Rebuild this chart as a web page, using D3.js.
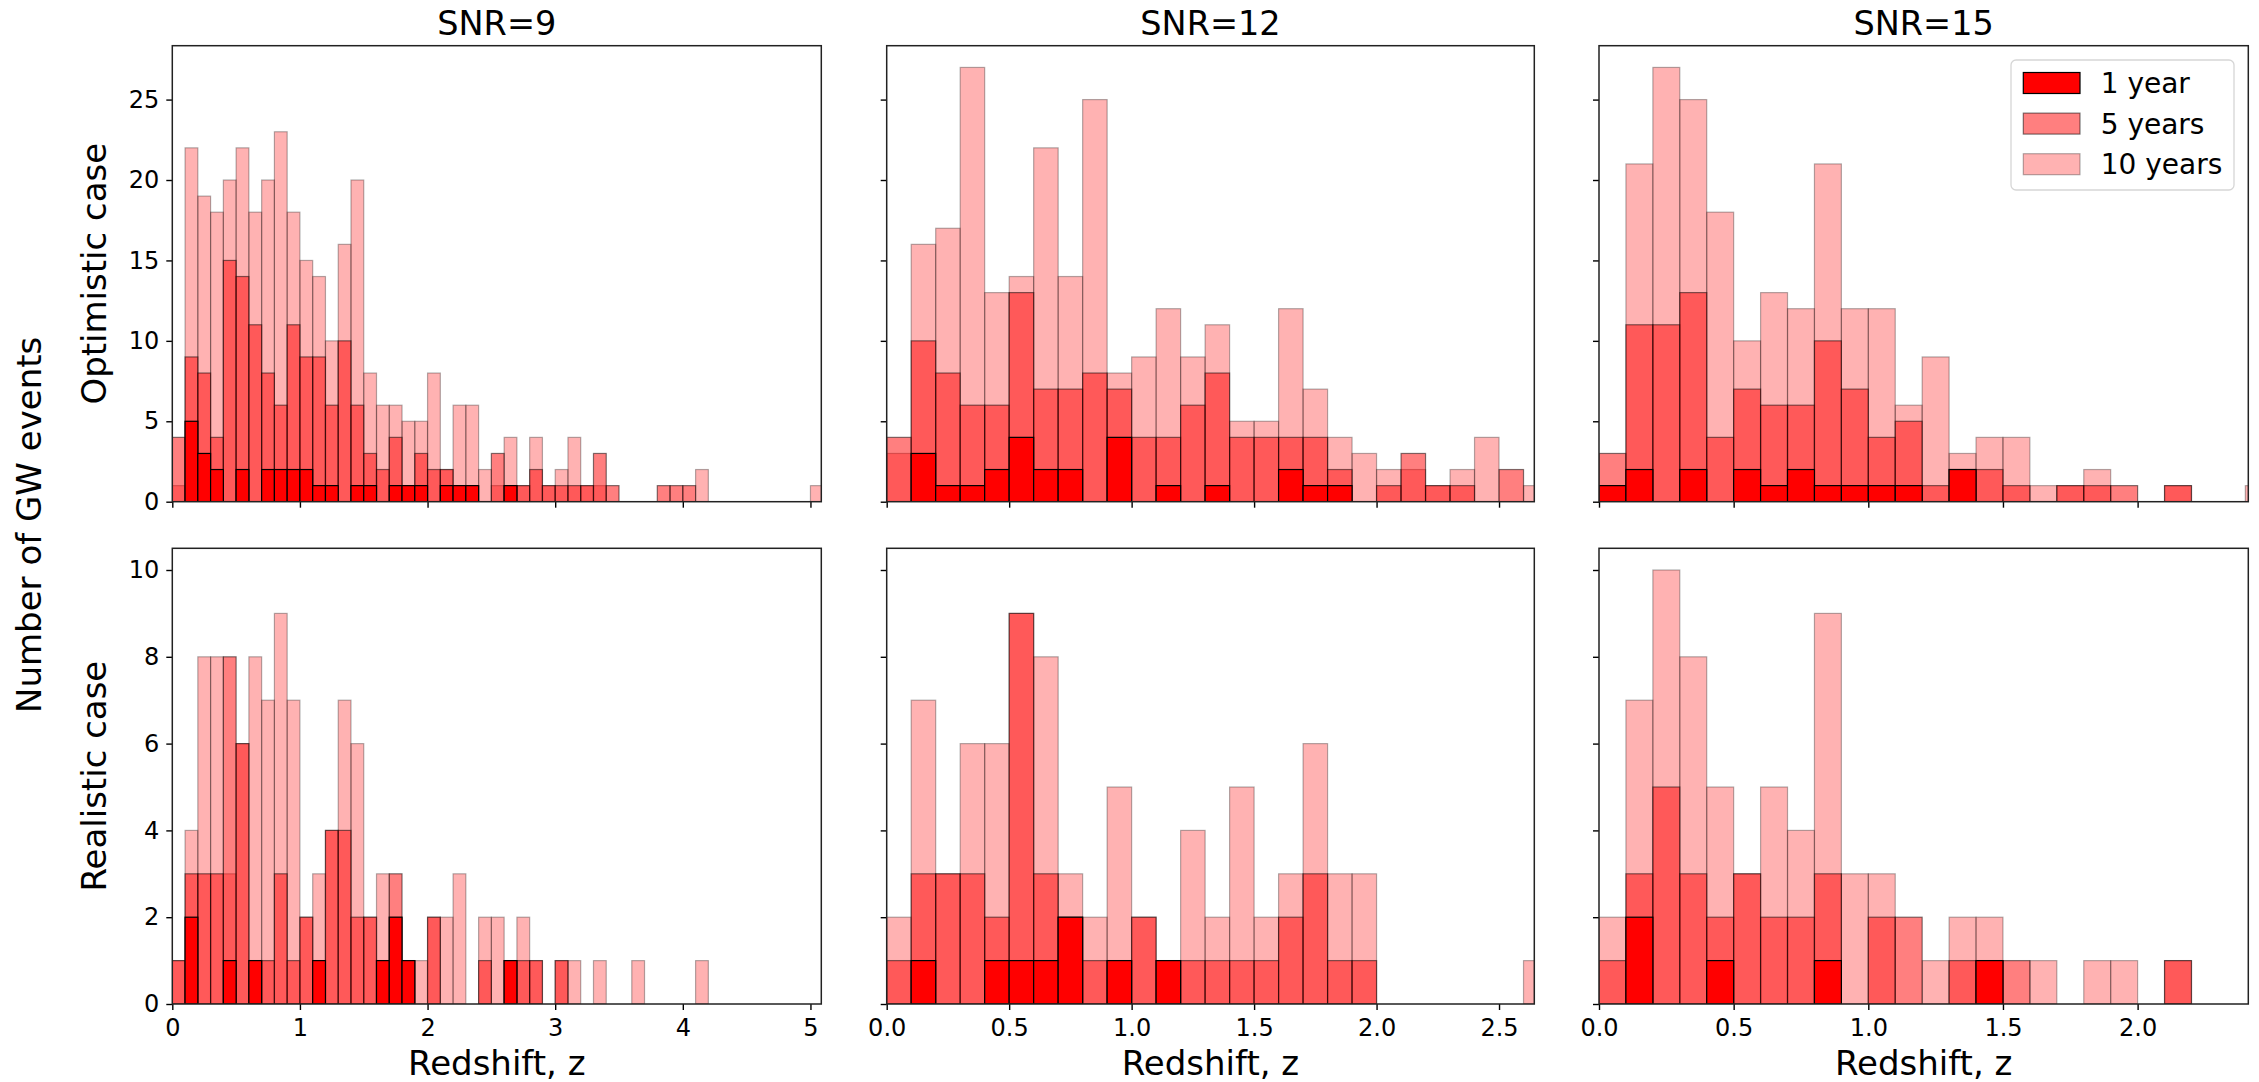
<!DOCTYPE html>
<html>
<head>
<meta charset="utf-8">
<script src="https://cdn.jsdelivr.net/npm/d3@7"></script>
<style>
  body { margin: 0; background: #fff; }
  text { font-family: "DejaVu Sans", sans-serif; fill: #000; }
</style>
</head>
<body>
<svg id="chart" width="2259" height="1082"></svg>
<script>
// ---- data -------------------------------------------------------------
const binWidth = 0.1;                       // redshift bin width
const snrTitles = ["SNR=9", "SNR=12", "SNR=15"];
const caseTitles = ["Optimistic case", "Realistic case"];
const seriesNames = ["1 year", "5 years", "10 years"];
const zMax = [5.085, 2.644, 2.411];         // upper redshift shown per SNR column
const xTickValues = [[0, 1, 2, 3, 4, 5], [0, 0.5, 1, 1.5, 2, 2.5], [0, 0.5, 1, 1.5, 2]];
const yTickValues = [[0, 5, 10, 15, 20, 25], [0, 2, 4, 6, 8, 10]];
const yTop = [27, 10];                      // tallest bin per row

// GW event counts per redshift bin (bin i covers [0.1*i, 0.1*(i+1)))
const opt9_1yr  = [0,5,3,2,0,2,0,2,2,2,2,1,1,0,1,1,0,1,1,1,0,1,1,1,0,0,1,0,0,0,0,0,0,0,0,0,0,0,0,0,0,0,0,0,0,0,0,0,0,0,0];
const opt9_5yr  = [4,9,8,4,15,14,11,8,6,11,9,9,6,10,6,3,2,4,1,3,2,2,1,1,0,3,1,1,2,1,1,1,1,3,1,0,0,0,1,1,1,0,0,0,0,0,0,0,0,0,0];
const opt9_10yr = [1,22,19,18,20,22,18,20,23,18,15,14,10,16,20,8,6,6,5,5,8,2,6,6,2,1,4,1,4,1,2,4,1,1,0,0,0,0,0,0,0,2,0,0,0,0,0,0,0,0,1];

const opt12_1yr  = [0,3,1,1,2,4,2,2,0,4,0,1,0,1,0,0,2,1,1,0,0,0,0,0,0,0,0];
const opt12_5yr  = [4,10,8,6,6,13,7,7,8,7,4,4,6,8,4,4,4,4,2,0,1,3,1,1,0,2,0];
const opt12_10yr = [3,16,17,27,13,14,22,14,25,8,9,12,9,11,5,5,12,7,4,3,2,2,1,2,4,0,1];

const opt15_1yr  = [1,2,0,2,0,2,1,2,1,1,1,1,0,2,0,0,0,0,0,0,0,0,0,0,0];
const opt15_5yr  = [3,11,11,13,4,7,6,6,10,7,4,5,1,2,2,1,0,1,1,1,0,1,0,0,0];
const opt15_10yr = [1,21,27,25,18,10,13,12,21,12,12,6,9,3,4,4,1,1,2,0,0,1,0,0,1];

const real9_1yr  = [0,2,0,0,1,0,1,0,0,0,0,1,0,0,0,0,1,2,1,0,0,0,0,0,0,0,1,0,0,0,0,0,0,0,0,0,0,0,0,0,0,0,0,0,0,0,0,0,0,0,0];
const real9_5yr  = [1,3,3,3,8,6,1,1,3,1,2,1,4,4,2,2,1,3,1,0,2,0,0,0,1,0,1,1,1,0,1,0,0,0,0,0,0,0,0,0,0,0,0,0,0,0,0,0,0,0,0];
const real9_10yr = [1,4,8,8,3,6,8,7,9,7,2,3,4,7,6,2,3,2,1,1,2,2,3,0,2,2,1,2,1,0,1,1,0,1,0,0,1,0,0,0,0,1,0,0,0,0,0,0,0,0,0];

const real12_1yr  = [0,1,0,0,1,1,1,2,0,1,0,1,0,0,0,0,0,0,0,0,0,0,0,0,0,0,0];
const real12_5yr  = [1,3,3,3,2,9,3,2,1,1,2,1,1,1,1,1,2,3,1,1,0,0,0,0,0,0,0];
const real12_10yr = [2,7,3,6,6,9,8,3,2,5,2,1,4,2,5,2,3,6,3,3,0,0,0,0,0,0,1];

const real15_1yr  = [0,2,0,0,1,0,0,0,1,0,0,0,0,0,1,0,0,0,0,0,0,0,0,0,0];
const real15_5yr  = [1,3,5,3,2,3,2,2,3,0,2,2,0,1,1,1,0,0,0,0,0,1,0,0,0];
const real15_10yr = [2,7,10,8,5,3,5,4,9,3,3,0,1,2,2,0,1,0,1,1,0,1,0,0,0];

// ---- panels: [row][col] -> counts for [1 year, 5 years, 10 years] -----
const panels = [
  [[opt9_1yr, opt9_5yr, opt9_10yr], [opt12_1yr, opt12_5yr, opt12_10yr], [opt15_1yr, opt15_5yr, opt15_10yr]],
  [[real9_1yr, real9_5yr, real9_10yr], [real12_1yr, real12_5yr, real12_10yr], [real15_1yr, real15_5yr, real15_10yr]]
];

// ---- layout -----------------------------------------------------------
const colX = [[172.3, 821.3], [886.7, 1534.3], [1599, 2248.3]];
const rowY = [[45.7, 501.7], [548.3, 1004]];
const seriesAlpha = [1, 0.5, 0.3];
const drawOrder = [2, 1, 0];               // 10 years first, 1 year on top
const tickFont = 24, titleFont = 33.5, labelFont = 34, legendFont = 28;

const svg = d3.select("#chart");

const xFormats = [d3.format("d"), d3.format(".1f"), d3.format(".1f")];

panels.forEach((row, r) => {
  row.forEach((series, c) => {
    const [x0, x1] = colX[c];
    const [y0, y1] = rowY[r];
    const xs = d3.scaleLinear().domain([0, zMax[c]]).range([x0, x1]);
    const ys = d3.scaleLinear().domain([0, yTop[r] * 1.05]).range([y1, y0]);

    const clipId = `clip-${r}-${c}`;
    svg.append("clipPath").attr("id", clipId)
      .append("rect").attr("x", x0).attr("y", y0).attr("width", x1 - x0).attr("height", y1 - y0);

    const g = svg.append("g").attr("clip-path", `url(#${clipId})`);
    drawOrder.forEach(s => {
      const bins = series[s]
        .map((count, i) => ({ lo: i * binWidth, hi: (i + 1) * binWidth, count }))
        .filter(d => d.count > 0);
      g.selectAll(null).data(bins).join("rect")
        .attr("x", d => xs(d.lo))
        .attr("width", d => xs(d.hi) - xs(d.lo))
        .attr("y", d => ys(d.count))
        .attr("height", d => ys(0) - ys(d.count))
        .attr("fill", "red").attr("fill-opacity", seriesAlpha[s])
        .attr("stroke", "black").attr("stroke-opacity", seriesAlpha[s])
        .attr("stroke-width", 1.2);
    });

    // x axis
    const xAxis = d3.axisBottom(xs).tickValues(xTickValues[c]).tickSize(6).tickPadding(9)
      .tickFormat(r === 1 ? xFormats[c] : () => "");
    const gx = svg.append("g").attr("transform", `translate(0,${y1})`).call(xAxis);
    // y axis
    const yAxis = d3.axisLeft(ys).tickValues(yTickValues[r]).tickSize(6).tickPadding(7)
      .tickFormat(c === 0 ? d3.format("d") : () => "");
    const gy = svg.append("g").attr("transform", `translate(${x0},0)`).call(yAxis);
    [gx, gy].forEach(a => {
      a.select(".domain").remove();
      a.selectAll(".tick line").attr("stroke", "#000").attr("stroke-width", 1.4);
      a.selectAll(".tick text").attr("font-size", tickFont).attr("font-family", "DejaVu Sans");
    });

    // frame
    svg.append("rect").attr("x", x0).attr("y", y0).attr("width", x1 - x0).attr("height", y1 - y0)
      .attr("fill", "none").attr("stroke", "#222").attr("stroke-width", 1.5);

    if (r === 0) {
      svg.append("text").attr("x", (x0 + x1) / 2).attr("y", y0 - 11)
        .attr("text-anchor", "middle").attr("font-size", titleFont).text(snrTitles[c]);
    }
    if (r === 1) {
      svg.append("text").attr("x", (x0 + x1) / 2).attr("y", 1075)
        .attr("text-anchor", "middle").attr("font-size", labelFont).text("Redshift, z");
    }
    if (c === 0) {
      svg.append("text")
        .attr("transform", `translate(106,${(y0 + y1) / 2}) rotate(-90)`)
        .attr("text-anchor", "middle").attr("font-size", labelFont).text(caseTitles[r]);
    }
  });
});

// shared y label
svg.append("text")
  .attr("transform", `translate(41,${(rowY[0][0] + rowY[1][1]) / 2}) rotate(-90)`)
  .attr("text-anchor", "middle").attr("font-size", labelFont).text("Number of GW events");

// legend in the top-right panel
const lg = svg.append("g").attr("transform", "translate(2011,60)");
lg.append("rect").attr("width", 223).attr("height", 130).attr("rx", 5)
  .attr("fill", "#fff").attr("fill-opacity", 0.8).attr("stroke", "#d6d6d6").attr("stroke-width", 1.3);
seriesNames.forEach((name, s) => {
  const cy = 23 + s * 40.6;
  lg.append("rect").attr("x", 12.3).attr("y", cy - 10.5).attr("width", 56.7).attr("height", 21)
    .attr("fill", "red").attr("fill-opacity", seriesAlpha[s])
    .attr("stroke", "black").attr("stroke-opacity", seriesAlpha[s]).attr("stroke-width", 1.2);
  lg.append("text").attr("x", 89.7).attr("y", cy).attr("dy", "0.36em")
    .attr("font-size", legendFont).text(name);
});
</script>
</body>
</html>
